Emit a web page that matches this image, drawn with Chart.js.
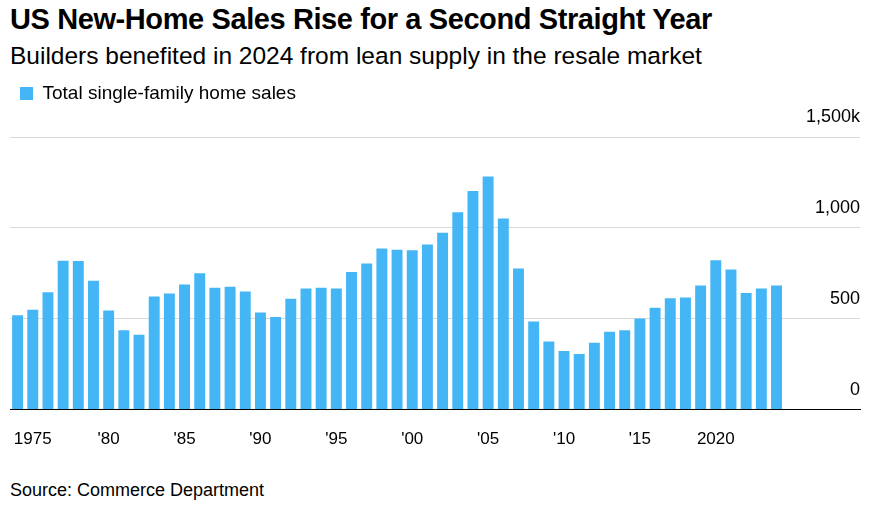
<!DOCTYPE html>
<html>
<head>
<meta charset="utf-8">
<script src="https://cdn.jsdelivr.net/npm/chart.js@4/dist/chart.umd.min.js"></script>
<style>
  body { margin: 0; width: 881px; height: 507px; background: #fff; font-family: "Liberation Sans", Arial, sans-serif; position: relative; overflow: hidden; }
  #title { position: absolute; left: 10px; top: 3px; font-size: 29px; font-weight: 700; color: #000; letter-spacing: -0.4px; }
  #sub { position: absolute; left: 10px; top: 42px; font-size: 24.5px; color: #000; }
  #src { position: absolute; left: 10px; top: 480px; font-size: 18px; color: #000; }
  #wrap { position: absolute; left: 0; top: 74px; width: 881px; height: 388px; }
</style>
</head>
<body>
<div id="title">US New-Home Sales Rise for a Second Straight Year</div>
<div id="sub">Builders benefited in 2024 from lean supply in the resale market</div>
<div id="src">Source: Commerce Department</div>
<div id="wrap"><canvas id="c"></canvas></div>
<script>
// Años y ventas (miles)
const years = [];
for (let y = 1974; y <= 2029; y++) years.push(y);
const sales = [519, 549, 646, 819, 817, 709, 545, 436, 412, 623, 639, 688, 750, 671, 676, 650,
  534, 509, 610, 666, 670, 667, 757, 804, 886, 880, 877, 908, 973, 1086, 1203, 1283, 1051,
  776, 485, 375, 323, 306, 368, 429, 437, 501, 561, 613, 617, 683, 822, 771, 641, 666, 683];
const yTicks = [0, 500, 1000, 1500];

const yearLabel = y => {
  if (y === 1975 || y === 2020) return String(y);
  if (y % 5 === 0 && y <= 2015) return "'" + String(y).slice(2);
  return '';
};

const fuente = 'Liberation Sans';

new Chart(document.getElementById('c'), {
  type: 'bar',
  data: {
    labels: years,
    datasets: [{ label: 'Total single-family home sales', data: sales, backgroundColor: '#45b6f5', categoryPercentage: 1, barPercentage: 0.72 }]
  },
  options: {
    responsive: true, maintainAspectRatio: false, animation: false,
    layout: { padding: { left: 10, right: 21, top: 0, bottom: 0 } },
    plugins: {
      legend: { position: 'top', align: 'start',
        labels: { boxWidth: 13, boxHeight: 13, color: '#000', font: { size: 19, family: fuente }, padding: 10 } },
      tooltip: { enabled: false }
    },
    scales: {
      x: {
        grid: { display: false }, border: { color: '#000' },
        ticks: { autoSkip: false, maxRotation: 0, padding: 12, color: '#000', font: { size: 17, family: fuente },
          callback: (v, i) => yearLabel(years[i]) }
      },
      y: {
        position: 'right', min: 0, max: 1500,
        afterBuildTicks: ax => { ax.ticks = yTicks.map(v => ({ value: v })); },
        grid: { color: '#d9d9d9', drawTicks: false }, border: { display: false },
        ticks: { mirror: true, labelOffset: -20, padding: 0, color: '#000', font: { size: 18, family: fuente },
          callback: v => v === 1500 ? '1,500k' : v.toLocaleString('en-US') }
      }
    }
  },
  plugins: [{
    id: 'espacioLeyenda',
    beforeInit(chart) {
      const fit = chart.legend.fit;
      chart.legend.fit = function () { fit.bind(chart.legend)(); this.height += 24; };
    }
  }]
});
</script>
</body>
</html>
